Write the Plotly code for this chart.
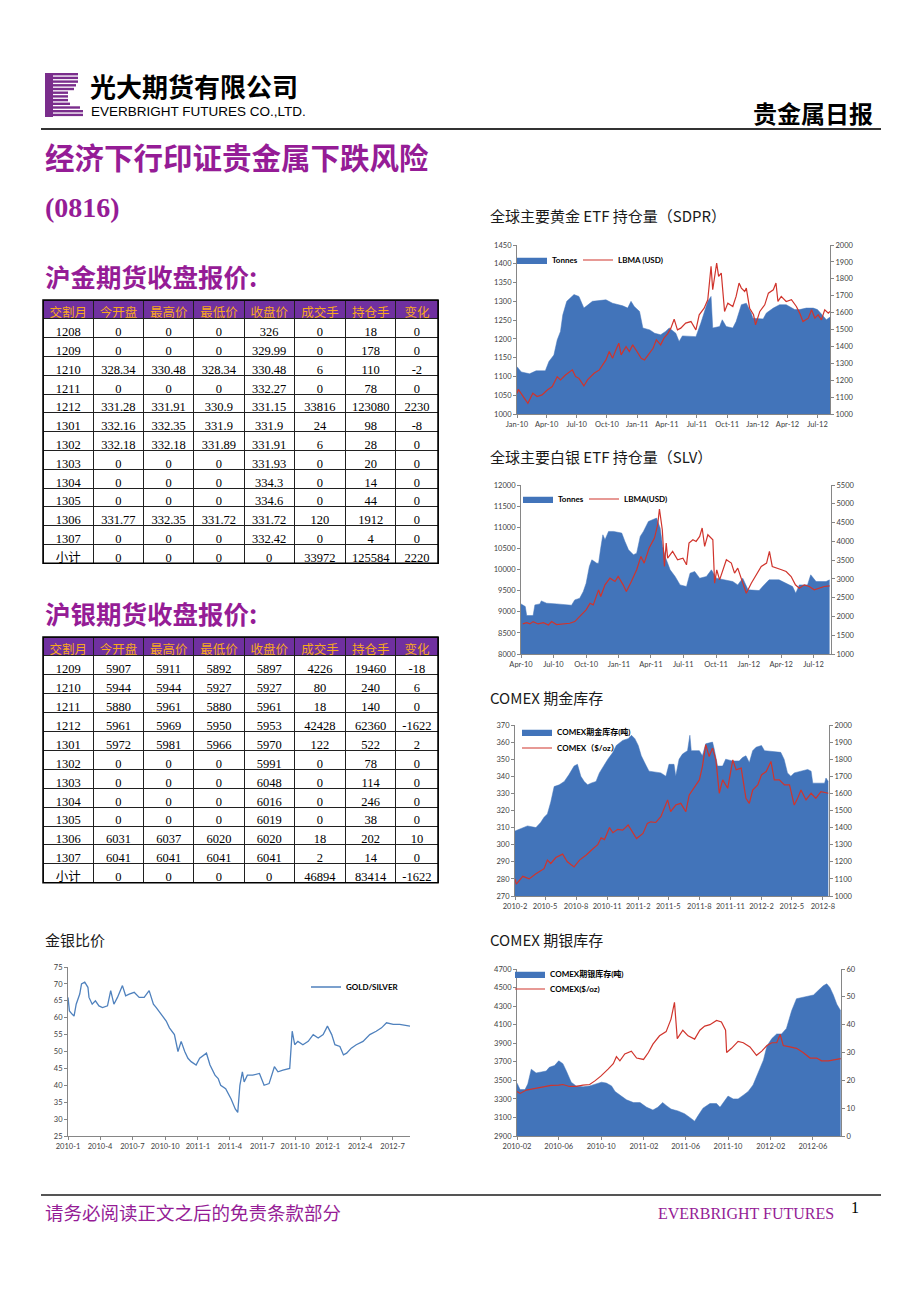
import plotly.graph_objects as go

W, H = 920, 1302
OFF = 8  # the page body adds an 8px margin around the figure


def px(x):
    return (x - OFF) / W


def py(y):
    return 1 - (y - OFF) / H


# ---------------- table data ----------------
tbl_header = ['交割月', '今开盘', '最高价', '最低价', '收盘价', '成交手', '持仓手', '变化']

au_month = ['1208', '1209', '1210', '1211', '1212', '1301', '1302', '1303', '1304', '1305', '1306', '1307', '小计']
au_open = [0, 0, 328.34, 0, 331.28, 332.16, 332.18, 0, 0, 0, 331.77, 0, 0]
au_high = [0, 0, 330.48, 0, 331.91, 332.35, 332.18, 0, 0, 0, 332.35, 0, 0]
au_low = [0, 0, 328.34, 0, 330.9, 331.9, 331.89, 0, 0, 0, 331.72, 0, 0]
au_close = [326, 329.99, 330.48, 332.27, 331.15, 331.9, 331.91, 331.93, 334.3, 334.6, 331.72, 332.42, 0]
au_volume = [0, 0, 6, 0, 33816, 24, 6, 0, 0, 0, 120, 0, 33972]
au_oi = [18, 178, 110, 78, 123080, 98, 28, 20, 14, 44, 1912, 4, 125584]
au_chg = [0, 0, -2, 0, 2230, -8, 0, 0, 0, 0, 0, 0, 2220]

ag_month = ['1209', '1210', '1211', '1212', '1301', '1302', '1303', '1304', '1305', '1306', '1307', '小计']
ag_open = [5907, 5944, 5880, 5961, 5972, 0, 0, 0, 0, 6031, 6041, 0]
ag_high = [5911, 5944, 5961, 5969, 5981, 0, 0, 0, 0, 6037, 6041, 0]
ag_low = [5892, 5927, 5880, 5950, 5966, 0, 0, 0, 0, 6020, 6041, 0]
ag_close = [5897, 5927, 5961, 5953, 5970, 5991, 6048, 6016, 6019, 6020, 6041, 0]
ag_volume = [4226, 80, 18, 42428, 122, 0, 0, 0, 0, 18, 2, 46894]
ag_oi = [19460, 240, 140, 62360, 522, 78, 114, 246, 38, 202, 14, 83414]
ag_chg = [-18, 6, 0, -1622, 2, 0, 0, 0, 0, 10, 0, -1622]

# ---------------- SPDR gold ETF ----------------
spdr_dates = ['2010-01-01', '2010-01-14', '2010-02-08', '2010-02-28', '2010-03-28', '2010-04-08', '2010-04-23',
              '2010-05-03', '2010-05-13', '2010-05-20', '2010-06-01', '2010-06-23', '2010-07-08', '2010-07-23',
              '2010-08-18', '2010-09-18', '2010-09-28', '2010-10-18', '2010-11-18', '2010-12-03', '2010-12-13',
              '2010-12-23', '2011-01-08', '2011-01-18', '2011-02-08', '2011-02-23', '2011-03-13', '2011-03-28',
              '2011-04-08', '2011-04-28', '2011-05-08', '2011-05-18', '2011-06-08', '2011-06-28', '2011-07-13',
              '2011-07-23', '2011-08-03', '2011-08-13', '2011-08-18', '2011-09-08', '2011-09-16', '2011-09-28',
              '2011-10-18', '2011-10-28', '2011-11-13', '2011-11-28', '2011-12-13', '2011-12-18', '2012-01-18',
              '2012-01-28', '2012-02-18', '2012-03-08', '2012-03-28', '2012-04-23', '2012-05-08', '2012-05-28',
              '2012-06-18', '2012-07-01', '2012-07-18', '2012-07-28', '2012-08-08']
spdr_tonnes = [1126, 1112, 1107, 1115, 1115, 1140, 1157, 1197, 1220, 1264, 1300, 1318, 1313, 1282, 1300, 1302,
               1304, 1295, 1288, 1282, 1300, 1286, 1273, 1229, 1224, 1215, 1211, 1220, 1229, 1215, 1193, 1208,
               1206, 1206, 1242, 1269, 1300, 1313, 1229, 1233, 1251, 1233, 1229, 1246, 1291, 1295, 1269, 1255,
               1253, 1269, 1282, 1291, 1291, 1278, 1278, 1282, 1282, 1278, 1260, 1251, 1258]
lbma_gold_dates = ['2010-01-01', '2010-01-05', '2010-01-20', '2010-02-03', '2010-02-18', '2010-03-03', '2010-03-18',
                   '2010-04-03', '2010-04-18', '2010-05-03', '2010-05-13', '2010-05-28', '2010-06-18', '2010-06-28',
                   '2010-07-08', '2010-07-23', '2010-08-03', '2010-08-23', '2010-09-08', '2010-09-28', '2010-10-08',
                   '2010-10-18', '2010-10-28', '2010-11-06', '2010-11-13', '2010-11-28', '2010-12-08', '2010-12-18',
                   '2010-12-28', '2011-01-13', '2011-01-23', '2011-02-03', '2011-02-18', '2011-02-28', '2011-03-13',
                   '2011-03-23', '2011-04-03', '2011-04-13', '2011-04-23', '2011-05-03', '2011-05-13', '2011-05-28',
                   '2011-06-13', '2011-06-28', '2011-07-08', '2011-07-23', '2011-08-03', '2011-08-13', '2011-08-18',
                   '2011-08-30', '2011-09-05', '2011-09-13', '2011-09-23', '2011-10-03', '2011-10-18', '2011-10-28',
                   '2011-11-06', '2011-11-13', '2011-11-23', '2011-11-28', '2011-12-08', '2011-12-20', '2011-12-26',
                   '2012-01-08', '2012-01-23', '2012-02-03', '2012-02-18', '2012-02-26', '2012-03-03', '2012-03-13',
                   '2012-03-28', '2012-04-13', '2012-04-28', '2012-05-08', '2012-05-18', '2012-06-03', '2012-06-13',
                   '2012-06-23', '2012-07-03', '2012-07-13', '2012-07-23', '2012-08-03', '2012-08-08']
lbma_gold_usd = [1122, 1146, 1103, 1063, 1123, 1103, 1113, 1142, 1162, 1221, 1202, 1231, 1261, 1221, 1211, 1166,
                 1202, 1241, 1261, 1320, 1370, 1330, 1379, 1419, 1350, 1399, 1370, 1409, 1379, 1330, 1320, 1350,
                 1389, 1439, 1409, 1449, 1474, 1508, 1561, 1498, 1508, 1538, 1547, 1498, 1587, 1626, 1676, 1874,
                 1735, 1893, 1814, 1834, 1607, 1656, 1636, 1696, 1775, 1745, 1725, 1745, 1626, 1587, 1528, 1607,
                 1646, 1715, 1735, 1775, 1666, 1696, 1666, 1676, 1636, 1597, 1547, 1567, 1617, 1567, 1587, 1557,
                 1617, 1597, 1607]

# ---------------- SLV silver ETF ----------------
slv_dates = ['2010-04-01', '2010-04-13', '2010-04-17', '2010-05-05', '2010-05-10', '2010-05-24', '2010-05-28',
             '2010-06-12', '2010-07-10', '2010-08-07', '2010-08-21', '2010-08-30', '2010-09-13', '2010-09-23',
             '2010-10-01', '2010-10-10', '2010-10-17', '2010-10-31', '2010-11-05', '2010-11-11', '2010-11-17',
             '2010-11-23', '2010-12-03', '2010-12-17', '2011-01-09', '2011-01-18', '2011-01-28', '2011-02-11',
             '2011-02-20', '2011-03-02', '2011-03-11', '2011-03-25', '2011-04-08', '2011-04-17', '2011-04-27',
             '2011-05-04', '2011-05-11', '2011-05-25', '2011-06-08', '2011-06-22', '2011-07-10', '2011-07-20',
             '2011-08-02', '2011-08-16', '2011-09-04', '2011-09-18', '2011-10-02', '2011-10-30', '2011-11-17',
             '2011-12-01', '2011-12-15', '2011-12-30', '2012-01-30', '2012-02-13', '2012-02-27', '2012-03-26',
             '2012-04-14', '2012-05-03', '2012-05-12', '2012-05-22', '2012-06-14', '2012-06-23', '2012-07-08',
             '2012-08-05', '2012-08-15']
slv_tonnes = [9186, 9123, 8909, 8909, 9162, 9186, 9257, 9202, 9186, 9162, 9154, 9281, 9320, 9478, 9676, 10071,
              10229, 10150, 10150, 10506, 10822, 10704, 10901, 10901, 10862, 10664, 10466, 10348, 10387, 10783,
              10901, 11138, 11178, 11217, 10980, 10545, 10308, 9992, 9834, 9636, 9597, 9913, 9953, 9794, 9834,
              9992, 9794, 9755, 9715, 9636, 9794, 9518, 9502, 9636, 9755, 9755, 9676, 9597, 9439, 9636, 9636,
              9874, 9715, 9715, 9755]
lbma_silver_dates = ['2010-04-06', '2010-04-17', '2010-04-26', '2010-05-05', '2010-05-19', '2010-06-03',
                     '2010-06-17', '2010-06-26', '2010-07-10', '2010-07-28', '2010-08-16', '2010-08-30',
                     '2010-09-13', '2010-10-01', '2010-10-12', '2010-10-21', '2010-11-05', '2010-11-11',
                     '2010-11-23', '2010-12-07', '2010-12-21', '2010-12-30', '2011-01-13', '2011-01-22',
                     '2011-02-05', '2011-02-20', '2011-03-04', '2011-03-13', '2011-03-27', '2011-04-11',
                     '2011-04-20', '2011-04-25', '2011-05-03', '2011-05-09', '2011-05-14', '2011-05-18',
                     '2011-06-01', '2011-06-15', '2011-06-30', '2011-07-10', '2011-07-17', '2011-07-28',
                     '2011-08-06', '2011-08-16', '2011-08-23', '2011-08-30', '2011-09-08', '2011-09-22',
                     '2011-09-27', '2011-10-03', '2011-10-11', '2011-10-20', '2011-10-30', '2011-11-13',
                     '2011-11-22', '2011-12-01', '2011-12-15', '2011-12-25', '2012-01-08', '2012-01-22',
                     '2012-02-05', '2012-02-20', '2012-02-28', '2012-03-07', '2012-03-23', '2012-04-02',
                     '2012-04-15', '2012-04-29', '2012-05-11', '2012-05-22', '2012-06-05', '2012-06-19',
                     '2012-07-03', '2012-07-17', '2012-07-31', '2012-08-15']
lbma_silver_usd = [1801, 1836, 1801, 1863, 1801, 1836, 1774, 1863, 1783, 1801, 1819, 1863, 1996, 2174, 2352,
                   2308, 2708, 2530, 2842, 3020, 2931, 3064, 2842, 2664, 2931, 3242, 3598, 3420, 3820, 4087,
                   4443, 4861, 4310, 3331, 3954, 3553, 3731, 3509, 3553, 3375, 3954, 4043, 3998, 4131, 4354,
                   3865, 4176, 4043, 2886, 3242, 2975, 3242, 3509, 3420, 3153, 3286, 2886, 2619, 2886, 3108,
                   3331, 3420, 3731, 3331, 3286, 3242, 3197, 3064, 2842, 2753, 2842, 2797, 2708, 2753, 2797, 2815]

# ---------------- COMEX gold ----------------
cmx_au_stock_dates = ['2010-02-01', '2010-02-15', '2010-03-10', '2010-04-04', '2010-04-18', '2010-04-28',
                      '2010-05-08', '2010-05-18', '2010-05-28', '2010-06-12', '2010-06-27', '2010-07-11',
                      '2010-07-26', '2010-08-05', '2010-08-15', '2010-08-25', '2010-09-04', '2010-09-14',
                      '2010-09-29', '2010-10-09', '2010-10-24', '2010-11-03', '2010-11-18', '2010-11-28',
                      '2010-12-17', '2011-01-02', '2011-01-12', '2011-01-22', '2011-02-01', '2011-02-10',
                      '2011-02-25', '2011-03-05', '2011-04-09', '2011-04-24', '2011-05-03', '2011-05-18',
                      '2011-05-23', '2011-06-02', '2011-06-12', '2011-06-27', '2011-07-04', '2011-07-08',
                      '2011-08-01', '2011-08-10', '2011-08-20', '2011-09-09', '2011-09-14', '2011-09-24',
                      '2011-10-09', '2011-10-18', '2011-11-07', '2011-11-27', '2011-12-07', '2011-12-17',
                      '2011-12-27', '2012-01-06', '2012-01-16', '2012-02-01', '2012-02-10', '2012-03-29',
                      '2012-04-08', '2012-04-18', '2012-04-28', '2012-05-08', '2012-06-17', '2012-06-27',
                      '2012-07-02', '2012-08-06', '2012-08-10', '2012-08-17']
cmx_au_stock = [308, 309, 311, 310, 313, 316, 318, 325, 334, 335, 337, 341, 346, 347, 340, 337, 335, 336, 337,
                342, 347, 350, 354, 358, 361, 362, 364, 362, 358, 352, 346, 343, 342, 340, 347, 347, 340, 350,
                353, 355, 364, 355, 355, 352, 359, 360, 356, 346, 346, 350, 349, 349, 351, 352, 348, 355, 357,
                358, 355, 354, 350, 342, 340, 342, 344, 343, 336, 336, 339, 337]
cmx_au_price_dates = ['2010-02-01', '2010-02-05', '2010-02-24', '2010-03-15', '2010-04-04', '2010-04-28',
                      '2010-05-08', '2010-05-18', '2010-06-02', '2010-06-22', '2010-07-06', '2010-07-26',
                      '2010-08-11', '2010-08-31', '2010-09-19', '2010-10-04', '2010-10-14', '2010-10-24',
                      '2010-11-08', '2010-11-18', '2010-12-02', '2010-12-17', '2011-01-02', '2011-01-27',
                      '2011-02-15', '2011-02-28', '2011-03-10', '2011-03-25', '2011-04-09', '2011-04-29',
                      '2011-05-08', '2011-05-23', '2011-06-07', '2011-06-22', '2011-07-02', '2011-07-16',
                      '2011-08-01', '2011-08-10', '2011-08-20', '2011-08-30', '2011-09-09', '2011-09-19',
                      '2011-09-29', '2011-10-09', '2011-10-24', '2011-11-08', '2011-11-18', '2011-12-03',
                      '2011-12-17', '2011-12-27', '2012-01-06', '2012-01-21', '2012-02-01', '2012-02-15',
                      '2012-02-29', '2012-03-10', '2012-03-25', '2012-04-09', '2012-04-24', '2012-05-08',
                      '2012-05-18', '2012-05-28', '2012-06-12', '2012-06-27', '2012-07-11', '2012-07-26',
                      '2012-08-17']
cmx_au_price = [1100, 1070, 1115, 1100, 1130, 1160, 1210, 1190, 1225, 1245, 1200, 1170, 1210, 1240, 1275, 1300,
                1340, 1330, 1400, 1370, 1390, 1385, 1415, 1336, 1366, 1425, 1434, 1430, 1464, 1562, 1493, 1532,
                1542, 1493, 1591, 1630, 1679, 1757, 1885, 1816, 1865, 1796, 1601, 1679, 1630, 1796, 1738, 1748,
                1571, 1542, 1620, 1650, 1708, 1728, 1787, 1679, 1679, 1650, 1650, 1532, 1571, 1620, 1562, 1601,
                1571, 1610, 1601]

# ---------------- COMEX silver ----------------
cmx_ag_stock_dates = ['2010-02-01', '2010-02-10', '2010-02-24', '2010-03-04', '2010-03-14', '2010-03-28',
                      '2010-04-12', '2010-04-26', '2010-05-05', '2010-05-20', '2010-06-01', '2010-06-13',
                      '2010-06-23', '2010-07-07', '2010-07-21', '2010-08-10', '2010-08-29', '2010-09-18',
                      '2010-10-02', '2010-10-16', '2010-10-31', '2010-11-10', '2010-11-24', '2010-12-13',
                      '2011-01-02', '2011-01-21', '2011-02-09', '2011-02-27', '2011-03-13', '2011-03-27',
                      '2011-04-06', '2011-04-20', '2011-05-10', '2011-05-29', '2011-06-13', '2011-06-27',
                      '2011-07-07', '2011-07-21', '2011-08-10', '2011-08-29', '2011-09-08', '2011-09-22',
                      '2011-10-01', '2011-10-16', '2011-10-30', '2011-11-14', '2011-11-28', '2011-12-12',
                      '2011-12-27', '2012-01-11', '2012-01-21', '2012-02-04', '2012-02-18', '2012-03-03',
                      '2012-03-17', '2012-04-01', '2012-04-15', '2012-04-29', '2012-05-19', '2012-06-03',
                      '2012-06-17', '2012-07-01', '2012-07-11', '2012-07-20', '2012-07-30', '2012-08-09',
                      '2012-08-20']
cmx_ag_stock = [3470, 3400, 3400, 3460, 3620, 3580, 3590, 3600, 3640, 3660, 3710, 3680, 3600, 3480, 3440, 3430,
                3440, 3460, 3480, 3470, 3440, 3380, 3340, 3290, 3260, 3260, 3210, 3180, 3210, 3260, 3230, 3190,
                3170, 3140, 3100, 3060, 3120, 3200, 3250, 3250, 3210, 3280, 3330, 3300, 3300, 3340, 3380, 3450,
                3580, 3720, 3870, 3950, 4000, 4000, 4060, 4250, 4380, 4390, 4410, 4420, 4470, 4520, 4540, 4500,
                4420, 4320, 4250]
cmx_ag_price_dates = ['2010-02-01', '2010-02-10', '2010-02-28', '2010-03-19', '2010-04-07', '2010-04-26',
                      '2010-05-10', '2010-06-01', '2010-06-13', '2010-07-02', '2010-07-21', '2010-08-10',
                      '2010-08-29', '2010-09-13', '2010-09-30', '2010-10-21', '2010-11-05', '2010-11-14',
                      '2010-11-24', '2010-12-08', '2010-12-27', '2011-01-11', '2011-01-31', '2011-02-14',
                      '2011-02-27', '2011-03-18', '2011-04-06', '2011-04-20', '2011-04-30', '2011-05-08',
                      '2011-05-24', '2011-06-08', '2011-06-27', '2011-07-12', '2011-07-26', '2011-08-10',
                      '2011-08-29', '2011-09-12', '2011-09-24', '2011-09-27', '2011-10-11', '2011-10-30',
                      '2011-11-14', '2011-12-03', '2011-12-22', '2012-01-06', '2012-01-21', '2012-02-04',
                      '2012-02-18', '2012-02-28', '2012-03-08', '2012-03-27', '2012-04-15', '2012-05-04',
                      '2012-05-24', '2012-06-12', '2012-06-26', '2012-07-16', '2012-08-04', '2012-08-20']
cmx_ag_price = [16, 15.3, 16.5, 17, 17.5, 17.8, 18.2, 18.3, 18.5, 17.8, 17.8, 18.3, 18.5, 19.8, 21.5, 24, 26,
                28.5, 27, 29.5, 30.5, 28, 27.5, 30, 33, 36, 37.5, 42, 48, 35, 38, 36, 34.8, 38, 39.5, 40, 41.5,
                41, 38, 30, 31.5, 34, 33.5, 32, 29, 30.5, 32.5, 33.5, 33.5, 36.5, 32.5, 32, 31.5, 30, 28, 28,
                27, 27, 27.5, 27.8]

# ---------------- gold / silver ratio ----------------
ratio_dates = ['2010-01-01', '2010-01-05', '2010-01-13', '2010-01-18', '2010-01-24', '2010-02-03', '2010-02-08',
               '2010-02-17', '2010-02-26', '2010-03-01', '2010-03-10', '2010-03-19', '2010-03-29', '2010-04-08',
               '2010-04-22', '2010-05-01', '2010-05-10', '2010-05-20', '2010-06-03', '2010-06-12', '2010-06-22',
               '2010-07-06', '2010-07-20', '2010-08-03', '2010-08-17', '2010-08-29', '2010-09-06', '2010-09-20',
               '2010-10-04', '2010-10-13', '2010-10-27', '2010-11-06', '2010-11-15', '2010-11-25', '2010-12-04',
               '2010-12-13', '2010-12-27', '2011-01-06', '2011-01-25', '2011-02-04', '2011-02-18', '2011-02-27',
               '2011-03-06', '2011-03-20', '2011-04-04', '2011-04-16', '2011-04-23', '2011-04-29', '2011-05-06',
               '2011-05-11', '2011-05-20', '2011-06-04', '2011-06-23', '2011-07-06', '2011-07-20', '2011-08-04',
               '2011-08-14', '2011-08-28', '2011-09-16', '2011-09-23', '2011-09-30', '2011-10-09', '2011-10-23',
               '2011-11-07', '2011-11-21', '2011-12-05', '2011-12-19', '2011-12-31', '2012-01-12', '2012-01-21',
               '2012-02-04', '2012-02-14', '2012-02-23', '2012-03-07', '2012-03-21', '2012-04-09', '2012-04-28',
               '2012-05-16', '2012-05-31', '2012-06-14', '2012-07-03', '2012-07-21', '2012-08-10', '2012-08-19']
ratio_values = [66, 62, 61, 60.5, 64, 67, 70, 70.5, 69, 66, 64, 65, 63.5, 63, 63.5, 68, 64, 66, 69.5, 66.5, 67,
                67.5, 66, 66, 68, 64, 63, 61, 59, 57, 55, 50, 53, 50, 48, 47, 46, 48, 49.5, 46, 43, 42, 40, 39,
                36, 33, 32, 40, 44, 41, 43, 43, 43.5, 40, 40.5, 45.5, 44, 44.5, 45, 56, 52, 53, 52, 53, 55, 54,
                55, 57.5, 55, 52, 51.5, 49, 49.5, 51, 52, 53, 55, 56, 57, 58.5, 58, 58, 57.5, 57.5]

# ---------------- tick labels ----------------
q_ticks_jan = ['2010-01-01', '2010-04-01', '2010-07-01', '2010-10-01', '2011-01-01', '2011-04-01', '2011-07-01',
               '2011-10-01', '2012-01-01', '2012-04-01', '2012-07-01']
spdr_ticktext = ['Jan-10', 'Apr-10', 'Jul-10', 'Oct-10', 'Jan-11', 'Apr-11', 'Jul-11', 'Oct-11', 'Jan-12',
                 'Apr-12', 'Jul-12']
slv_tickvals = q_ticks_jan[1:]
slv_ticktext = spdr_ticktext[1:]
cmx_au_tickvals = ['2010-02-01', '2010-05-01', '2010-08-01', '2010-11-01', '2011-02-01', '2011-05-01',
                   '2011-08-01', '2011-11-01', '2012-02-01', '2012-05-01', '2012-08-01']
cmx_au_ticktext = ['2010-2', '2010-5', '2010-8', '2010-11', '2011-2', '2011-5', '2011-8', '2011-11', '2012-2',
                   '2012-5', '2012-8']
cmx_ag_tickvals = ['2010-02-01', '2010-06-01', '2010-10-01', '2011-02-01', '2011-06-01', '2011-10-01',
                   '2012-02-01', '2012-06-01']
cmx_ag_ticktext = ['2010-02', '2010-06', '2010-10', '2011-02', '2011-06', '2011-10', '2012-02', '2012-06']
ratio_ticktext = ['2010-1', '2010-4', '2010-7', '2010-10', '2011-1', '2011-4', '2011-7', '2011-10', '2012-1',
                  '2012-4', '2012-7']

# ---------------- styles ----------------
AREA = '#4274BA'
RED = '#D0342C'
BLUE_LINE = '#4F81BD'
PURPLE = '#951C96'
AXC = '#868686'
TICKFONT = dict(size=7.5, color='#404040', family='Lato, Noto Sans CJK SC, sans-serif')
LEGFONT = dict(size=8, color='#000000', family='Lato, Noto Sans CJK SC, sans-serif')

fig = go.Figure()


def area(xs, ys, name, xa, ya, leg):
    fig.add_trace(go.Scatter(x=xs, y=ys, name=name, mode='lines', fill='tozeroy', fillcolor=AREA,
                             line=dict(color=AREA, width=0.5), xaxis=xa, yaxis=ya, legend=leg))


def line(xs, ys, name, xa, ya, leg, color=RED, width=1.2):
    fig.add_trace(go.Scatter(x=xs, y=ys, name=name, mode='lines', line=dict(color=color, width=width),
                             xaxis=xa, yaxis=ya, legend=leg))


area(spdr_dates, spdr_tonnes, '<b>Tonnes</b>', 'x', 'y', 'legend')
line(lbma_gold_dates, lbma_gold_usd, '<b>LBMA (USD)</b>', 'x', 'y2', 'legend2')
area(slv_dates, slv_tonnes, '<b>Tonnes</b>', 'x2', 'y3', 'legend3')
line(lbma_silver_dates, lbma_silver_usd, '<b>LBMA(USD)</b>', 'x2', 'y4', 'legend4')
area(cmx_au_stock_dates, cmx_au_stock, '<b>COMEX期金库存(吨)</b>', 'x3', 'y5', 'legend5')
line(cmx_au_price_dates, cmx_au_price, '<b>COMEX（$/oz）</b>', 'x3', 'y6', 'legend6')
area(cmx_ag_stock_dates, cmx_ag_stock, '<b>COMEX期银库存(吨)</b>', 'x4', 'y7', 'legend7')
line(cmx_ag_price_dates, cmx_ag_price, '<b>COMEX($/oz)</b>', 'x4', 'y8', 'legend8')
line(ratio_dates, ratio_values, '<b>GOLD/SILVER</b>', 'x5', 'y9', 'legend9', color=BLUE_LINE, width=1.3)


def xax(x0, x1, rng, tv, tt, anchor):
    return dict(domain=[px(x0), px(x1)], range=rng, type='date', tickmode='array', tickvals=tv, ticktext=tt,
                showline=True, linecolor=AXC, linewidth=1, ticks='outside', ticklen=3, tickcolor=AXC,
                tickfont=TICKFONT, showgrid=False, zeroline=False, anchor=anchor, fixedrange=True,
                automargin=False)


def yax(y0, y1, rng, dtick, anchor, side='left', overlaying=None):
    d = dict(range=rng, dtick=dtick, tick0=rng[0], side=side, showline=True, linecolor=AXC, linewidth=1,
             ticks='outside', ticklen=3, tickcolor=AXC, tickfont=TICKFONT, showgrid=False, zeroline=False,
             anchor=anchor, tickformat='d', fixedrange=True, automargin=False, domain=[py(y1), py(y0)])
    if overlaying:
        d['overlaying'] = overlaying
    return d


layout = dict(
    template='none',
    width=W, height=H, autosize=False, margin=dict(l=0, r=0, t=0, b=0, pad=0, autoexpand=False),
    paper_bgcolor='white', plot_bgcolor='rgba(0,0,0,0)', showlegend=True,
    xaxis=xax(517, 830, ['2010-01-01', '2012-08-08'], q_ticks_jan, spdr_ticktext, 'y'),
    yaxis=yax(245, 414, [1000, 1450], 50, 'x'),
    yaxis2=yax(245, 414, [1000, 2000], 100, 'x', 'right', 'y'),
    xaxis2=xax(521, 831, ['2010-04-01', '2012-08-19'], slv_tickvals, slv_ticktext, 'y3'),
    yaxis3=yax(485, 654, [8000, 12000], 500, 'x2'),
    yaxis4=yax(485, 654, [1000, 5500], 500, 'x2', 'right', 'y3'),
    xaxis3=xax(515, 829, ['2010-02-01', '2012-08-19'], cmx_au_tickvals, cmx_au_ticktext, 'y5'),
    yaxis5=yax(725, 896, [270, 370], 10, 'x3'),
    yaxis6=yax(725, 896, [1000, 2000], 100, 'x3', 'right', 'y5'),
    xaxis4=xax(517, 841, ['2010-02-01', '2012-08-21'], cmx_ag_tickvals, cmx_ag_ticktext, 'y7'),
    yaxis7=yax(969, 1136, [2900, 4700], 200, 'x4'),
    yaxis8=yax(969, 1136, [0, 60], 10, 'x4', 'right', 'y7'),
    xaxis5=xax(68, 410, ['2010-01-01', '2012-08-19'], q_ticks_jan, ratio_ticktext, 'y9'),
    yaxis9=yax(967, 1136, [25, 75], 5, 'x5'),
)

leg_pos = {
    'legend': (512, 260), 'legend2': (578, 260),
    'legend3': (518, 499), 'legend4': (584, 499),
    'legend5': (517, 732), 'legend6': (517, 748),
    'legend7': (510, 974), 'legend8': (510, 989),
    'legend9': (306, 987),
}
for k, (lx, ly) in leg_pos.items():
    layout[k] = dict(x=px(lx), y=py(ly), xanchor='left', yanchor='middle', bgcolor='rgba(0,0,0,0)',
                     borderwidth=0, font=LEGFONT, itemwidth=30, orientation='v', tracegroupgap=0)

fig.update_layout(**layout)

# ---------------- tables ----------------
CJK = 'Noto Sans CJK SC, sans-serif'
NUMF = 'Liberation Serif, Noto Sans CJK SC, serif'


def add_table(cols, y0, y1, rowh):
    fig.add_trace(go.Table(
        domain=dict(x=[px(43), px(438)], y=[py(y1), py(y0)]),
        columnwidth=[50, 50, 50, 50, 50, 51, 50, 42],
        header=dict(values=tbl_header, fill_color='#7030A0', align='center', height=rowh,
                    font=dict(color='#F7A81B', size=12.5, family=CJK), line=dict(color='#202020', width=1)),
        cells=dict(values=cols, fill_color='white', align='center', height=rowh,
                   font=dict(color='#000000', size=12.5, family=NUMF), line=dict(color='#202020', width=1)),
    ))


add_table([au_month, au_open, au_high, au_low, au_close, au_volume, au_oi, au_chg], 300, 566, 18.8)
add_table([ag_month, ag_open, ag_high, ag_low, ag_close, ag_volume, ag_oi, ag_chg], 637, 886, 18.9)

# ---------------- text ----------------
ann = []


def text(s, x, y, size, color='#000000', family=CJK, xanchor='left', yanchor='middle'):
    ann.append(dict(text=s, x=px(x), y=py(y), xref='paper', yref='paper', showarrow=False,
                    xanchor=xanchor, yanchor=yanchor, font=dict(size=size, color=color, family=family)))


text('<b>光大期货有限公司</b>', 88, 86, 26)
text('EVERBRIGHT FUTURES CO.,LTD.', 89, 111, 13.5, family='Liberation Sans Narrow, Liberation Sans, sans-serif')
text('<b>贵金属日报</b>', 875, 112, 24, xanchor='right')
text('<b>经济下行印证贵金属下跌风险</b>', 43, 156, 29.5, color=PURPLE)
text('<b>(0816)</b>', 43, 207, 28, color=PURPLE, family='Liberation Serif, serif')
text('<b>沪金期货收盘报价:</b>', 43, 276, 25.5, color=PURPLE)
text('<b>沪银期货收盘报价:</b>', 43, 612, 25.5, color=PURPLE)
text('全球主要黄金 ETF 持仓量（SDPR）', 488, 215, 15, color='#1a1a1a')
text('全球主要白银 ETF 持仓量（SLV）', 488, 456, 15, color='#1a1a1a')
text('COMEX 期金库存', 488, 697, 15, color='#1a1a1a')
text('COMEX 期银库存', 488, 939, 15, color='#1a1a1a')
text('金银比价', 43, 939, 15, color='#1a1a1a')
text('请务必阅读正文之后的免责条款部分', 43, 1212, 18.5, color=PURPLE)
text('EVERBRIGHT FUTURES', 836, 1213, 16, color=PURPLE, family='Liberation Serif, serif', xanchor='right')
text('1', 855, 1207, 16, family='Liberation Serif, serif', xanchor='center')

# ---------------- decorative shapes (header/footer rules, logo, table frames) ----------------
shapes = [
    dict(type='line', xref='paper', yref='paper', x0=px(41), x1=px(881), y0=py(129), y1=py(129),
         line=dict(color='#333333', width=2)),
    dict(type='line', xref='paper', yref='paper', x0=px(41), x1=px(881), y0=py(1195), y1=py(1195),
         line=dict(color='#555555', width=2)),
    dict(type='rect', xref='paper', yref='paper', x0=px(43), x1=px(438), y0=py(563.2), y1=py(300),
         line=dict(color='#000000', width=1.5)),
    dict(type='rect', xref='paper', yref='paper', x0=px(43), x1=px(438), y0=py(882.7), y1=py(637),
         line=dict(color='#000000', width=1.5)),
    dict(type='rect', xref='paper', yref='paper', x0=px(45), x1=px(53), y0=py(117), y1=py(73),
         fillcolor='#7A2D8C', line=dict(width=0)),
]
logo_ends = [78, 78, 78, 76, 74, 68, 68, 68, 70, 80, 83, 83]
for i, xe in enumerate(logo_ends):
    y0 = 73 + i * 3.7
    shapes.append(dict(type='rect', xref='paper', yref='paper', x0=px(53), x1=px(xe), y0=py(y0 + 2.4),
                       y1=py(y0), fillcolor='#7A2D8C', line=dict(width=0)))

fig.update_layout(annotations=ann, shapes=shapes)

fig.write_html('out.html')
